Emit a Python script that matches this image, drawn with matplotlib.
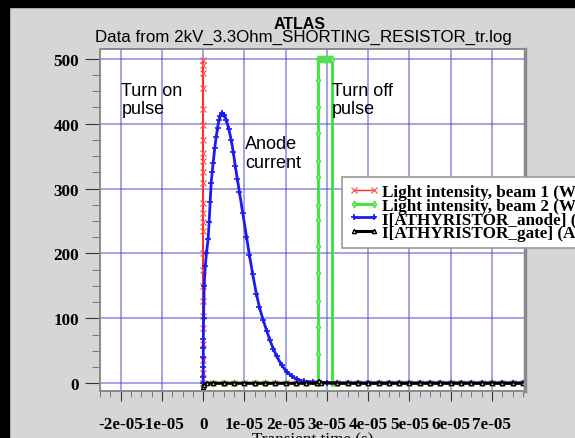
import matplotlib
matplotlib.use("Agg")
import matplotlib.pyplot as plt
from matplotlib.patches import Rectangle

# all times are in microseconds, converted to seconds when plotted
tail_t = [2.5, 5.0, 7.5, 10.0, 12.5, 15.0, 17.5, 20.0, 22.5, 25.0, 27.5,
          32.5, 35.0, 37.5, 40.0, 42.5, 45.0, 47.5, 50.0, 52.5, 55.0, 57.5,
          60.0, 62.5, 65.0, 67.5, 70.0, 72.5, 75.0, 77.5]

# beam 1 (turn on pulse) - rises at t=0
beam1_rise_v = [0, 15, 35, 60, 85, 103, 126, 150, 175, 200, 234, 249, 263, 278,
                309, 325, 342, 355, 375, 398, 422, 455, 478, 491, 498]
beam1_t = [0.0] * len(beam1_rise_v) + [0.05] + tail_t
beam1_v = beam1_rise_v + [0] + [0] * len(tail_t)

# beam 2 (turn off pulse)
beam2_pre_t = [2.5, 5.0, 7.5, 10.0, 12.5, 15.0, 17.5, 20.0, 22.5, 25.0, 27.5]
beam2_rise_v = [0, 45, 86, 127, 170, 212, 252, 274, 318, 342, 385, 426, 468, 500]
beam2_top_t = [28.3, 28.6, 28.9, 29.2, 29.5, 29.8, 30.1, 30.4, 30.7, 31.0, 31.2]
beam2_post_t = [31.2, 32.5, 35.0, 37.5, 40.0, 42.5, 45.0, 47.5, 50.0, 52.5, 55.0,
                57.5, 60.0, 62.5, 65.0, 67.5, 70.0, 72.5, 75.0, 77.5]
beam2_t = [0.0] + beam2_pre_t + [27.9] * len(beam2_rise_v) + beam2_top_t + beam2_post_t
beam2_v = ([0] * (len(beam2_pre_t) + 1) + beam2_rise_v + [500] * len(beam2_top_t)
           + [0] * len(beam2_post_t))

# anode current
anode_t = [0.0, 0.01, 0.02, 0.03, 0.04, 0.05, 0.1, 0.25, 0.5, 0.8, 1.2, 1.46, 1.7,
           1.95, 2.2, 2.44, 2.8, 3.17, 3.5, 3.8, 4.2, 4.6, 5.1, 5.6, 6.2, 6.8, 7.3,
           7.8, 8.3, 8.8, 9.6, 10.5, 11.2, 12.0, 12.9, 13.6, 14.5, 15.4, 16.2,
           17.0, 17.8, 19.0, 20.2, 21.5, 22.7, 24.5, 26.6, 28.5, 30.0, 32.5, 35.0,
           37.5, 40.0, 42.5, 45.0, 47.5, 50.0, 52.5, 55.0, 57.5, 60.0, 62.5, 65.0,
           67.5, 70.0, 72.5, 75.0, 77.5]
anode_v = [0, 10, 25, 40, 55, 68, 100, 150, 180, 200, 222, 249, 280,
           309, 326, 340, 362, 380, 394, 405, 412, 417, 414, 406, 392, 375, 356,
           334, 314, 294, 262, 226, 198, 168, 138, 118, 98, 81, 66,
           53, 42, 28, 18, 11, 6, 3, 2, 1, 1, 0.5, 0.5,
           0.5, 0.5, 0.5, 0.5, 0.5, 0.5, 0.5, 0.5, 0.5, 0.5, 0.5, 0.5,
           0.5, 0.5, 0.5, 0.5, 0.5]

# gate current
gate_t = [0.0, 0.3, 1.0] + tail_t[:11] + [28.0, 28.5] + tail_t[11:]
gate_v = [-6, -2, 0] + [0] * 11 + [3.5, 0.5] + [0] * len(tail_t[11:])

xtick_vals = [-2e-05, -1e-05, 0, 1e-05, 2e-05, 3e-05, 4e-05, 5e-05, 6e-05, 7e-05]
xtick_labels = ['-2e-05', '-1e-05', '0', '1e-05', '2e-05', '3e-05', '4e-05',
                '5e-05', '6e-05', '7e-05']
ytick_vals = [0, 100, 200, 300, 400, 500]

labels = ['Light intensity, beam 1 (W/cm2)', 'Light intensity, beam 2 (W/cm2)',
          'I[ATHYRISTOR_anode] (A)', 'I[ATHYRISTOR_gate] (A)']

plt.rcParams['font.family'] = 'Liberation Serif'
plt.rcParams['font.weight'] = 'bold'

fig = plt.figure(figsize=(5.75, 4.39), dpi=100, facecolor='#d6d6d6')
ax = fig.add_axes([100 / 575, 1 - 392 / 439, 425 / 575, 342 / 439])

us = 1e-6
l1, = ax.plot([t * us for t in beam1_t], beam1_v, color='#ff2a2a', lw=1,
              marker='x', ms=4.5, mec='#ff5a5a', mew=0.9)
l2, = ax.plot([t * us for t in beam2_t], beam2_v, color='#2fe82f', lw=2,
              marker='d', ms=3.5, mfc='#80ee80', mec='#50dd50')
l3, = ax.plot([t * us for t in anode_t], anode_v, color='#1c1cf0', lw=2,
              marker='+', ms=5, mew=1.2)
l4, = ax.plot([t * us for t in gate_t], gate_v, color='black', lw=2.2,
              marker='^', ms=3, mfc='white', mec='black')

ax.set_xlim(-2.5e-05, 7.8e-05)
ax.set_ylim(-12, 515)
ax.set_xticks(xtick_vals)
ax.set_xticklabels(xtick_labels)
ax.set_yticks(ytick_vals)
ax.set_xticks([v * 2.5e-06 for v in range(-10, 32)], minor=True)
ax.set_yticks(range(0, 516, 25), minor=True)
ax.grid(True, which='major', color='#4a4ad0', alpha=0.55, lw=1.3)
ax.set_axisbelow(True)
ax.tick_params(axis='both', which='major', labelsize=12.3, color='#333333')
ax.tick_params(axis='y', which='major', length=11, pad=4)
ax.tick_params(axis='y', which='minor', length=6, color='#666666')
ax.tick_params(axis='x', which='major', length=7, pad=11)
ax.tick_params(axis='x', which='minor', length=4, color='#666666')
for s in ax.spines.values():
    s.set_color('#8a8a8a')
    s.set_linewidth(1.4)
ax.spines['right'].set_linewidth(2.5)

ax.set_xlabel('Transient time (s)', fontsize=12.3)
ax.xaxis.set_label_coords(0.5, -0.117)

note_style = dict(family='Liberation Sans', weight='normal', fontsize=13,
                  va='top', ha='left', linespacing=1.1)
ax.text(-1.98e-05, 464, 'Turn on\npulse', **note_style)
ax.text(3.12e-05, 464, 'Turn off\npulse', **note_style)
ax.text(1.02e-05, 382, 'Anode\ncurrent', **note_style)

fig.text(300 / 575, 1 - 29 / 439, 'ATLAS', family='Liberation Sans', weight='bold',
         fontsize=11.5, ha='center', va='baseline')
fig.text(303 / 575, 1 - 42 / 439, 'Data from 2kV_3.3Ohm_SHORTING_RESISTOR_tr.log',
         family='Liberation Sans', weight='normal', fontsize=12.2,
         ha='center', va='baseline')

leg = ax.legend([l1, l2, l3, l4], labels, loc='upper left',
                bbox_to_anchor=(342 / 575, 1 - 178 / 439),
                bbox_transform=fig.transFigure, fontsize=12.3, numpoints=2,
                handlelength=1.75, handletextpad=0.2, labelspacing=-0.13,
                borderpad=0.4, borderaxespad=0, fancybox=False, framealpha=1,
                edgecolor='#999999')
leg.get_frame().set_linewidth(1.2)

# dark frame of the screenshot window
fig.patches.append(Rectangle((0, 0), 9 / 575, 1, transform=fig.transFigure,
                             color='black', zorder=-1))
fig.patches.append(Rectangle((0, 1 - 8 / 439), 1, 8 / 439, transform=fig.transFigure,
                             color='black', zorder=-1))

fig.savefig('out.png', dpi=100, facecolor=fig.get_facecolor())
